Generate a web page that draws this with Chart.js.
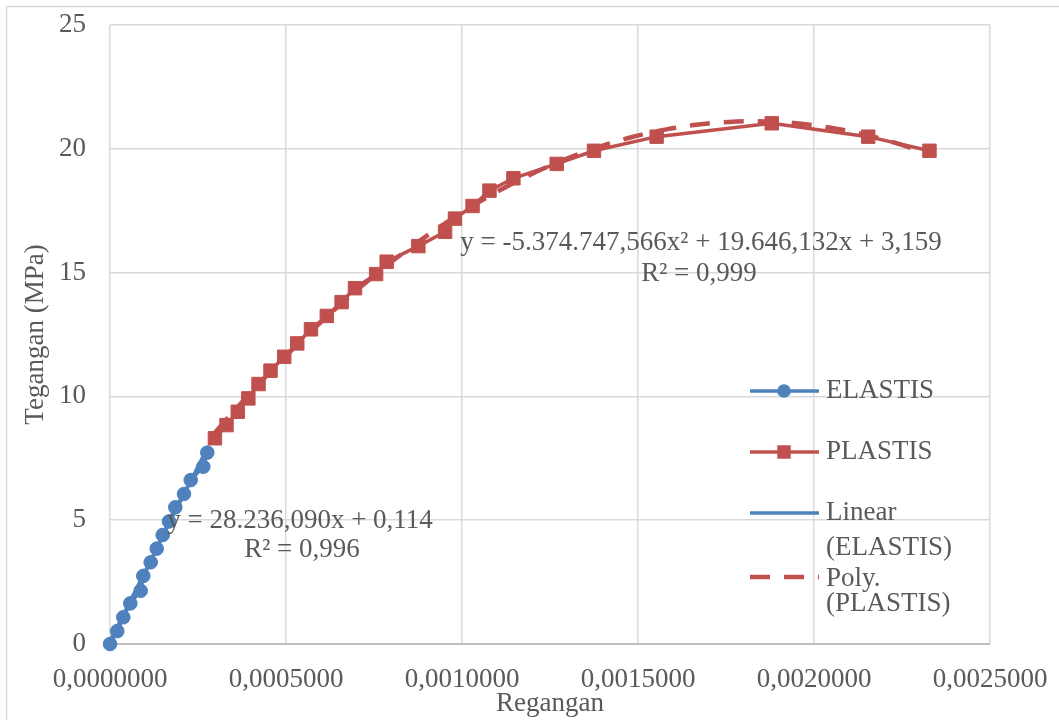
<!DOCTYPE html>
<html>
<head>
<meta charset="utf-8">
<script src="https://cdn.jsdelivr.net/npm/chart.js@4"></script>
<style>
html, body { margin: 0; padding: 0; background: #fff; }
#wadah { width: 1059px; height: 720px; position: relative; }
</style>
</head>
<body>
<div id="wadah"><canvas id="grafikTegangan" width="1059" height="720"></canvas></div>
<script>
// Data hasil uji: regangan (x) dan tegangan (MPa)
const regElastis = [0, 0.0000207, 0.0000378, 0.0000577, 0.0000872, 0.0000946, 0.0001156, 0.0001327,
    0.0001497, 0.0001676, 0.0001855, 0.0002102, 0.0002293, 0.0002651, 0.0002764];
const tegElastis = [0, 0.52, 1.08, 1.64, 2.15, 2.75, 3.30, 3.85, 4.40, 4.95, 5.52, 6.06, 6.62, 7.16, 7.73];

const regPlastis = [0.000298, 0.000331, 0.000363, 0.000393, 0.000422, 0.000456, 0.000495, 0.000532,
    0.000571, 0.000616, 0.000658, 0.000696, 0.000756, 0.000786, 0.000876, 0.000952, 0.000980,
    0.001030, 0.001078, 0.001146, 0.001269, 0.001375, 0.001553, 0.001880, 0.002154, 0.002328];
const tegPlastis = [8.31, 8.84, 9.38, 9.92, 10.50, 11.04, 11.60, 12.14, 12.71, 13.25, 13.81, 14.37,
    14.94, 15.44, 16.07, 16.65, 17.18, 17.69, 18.31, 18.81, 19.39, 19.92, 20.49, 21.03, 20.49, 19.92];

// Koefisien garis tren (sesuai persamaan yang ditampilkan)
const koefLinear = [28236.090, 0.114];               // y = a x + b
const koefPoly = [-5374747.566, 19646.132, 3.159];   // y = a x^2 + b x + c

const tickRegangan = [0, 0.0005, 0.001, 0.0015, 0.002, 0.0025];
const labelRegangan = ['0,0000000', '0,0005000', '0,0010000', '0,0015000', '0,0020000', '0,0025000'];
const tickTegangan = [0, 5, 10, 15, 20, 25];
const labelTegangan = ['0', '5', '10', '15', '20', '25'];

const BIRU = '#4F81BD';
const MERAH = '#C0504D';
const ABU_TEKS = '#595959';
const HURUF = '"Liberation Serif", "Times New Roman", serif';

const titikElastis = regElastis.map((x, i) => ({ x: x, y: tegElastis[i] }));
const titikPlastis = regPlastis.map((x, i) => ({ x: x, y: tegPlastis[i] }));

// garis tren linear hanya sepanjang data elastis
const xMaxElastis = Math.max(...regElastis);
const trenLinear = [0, xMaxElastis].map(x => ({ x: x, y: koefLinear[0] * x + koefLinear[1] }));

// garis tren polinomial orde 2 sepanjang data plastis
const xMinP = Math.min(...regPlastis), xMaxP = Math.max(...regPlastis);
const trenPoly = [];
for (let i = 0; i <= 100; i++) {
    const x = xMinP + (xMaxP - xMinP) * i / 100;
    trenPoly.push({ x: x, y: koefPoly[0] * x * x + koefPoly[1] * x + koefPoly[2] });
}

const bingkaiLuar = {
    id: 'bingkaiLuar',
    beforeDraw(chart) {
        const c = chart.ctx;
        c.save();
        c.fillStyle = '#fff';
        c.fillRect(0, 0, chart.width, chart.height);
        c.strokeStyle = '#d9d9d9';
        c.lineWidth = 1.5;
        c.strokeRect(6.5, 6.5, chart.width + 20, chart.height + 20);
        c.restore();
    }
};

// posisi legenda dan label persamaan (piksel)
const posLegenda = [
    { y: 391, teks: [['ELASTIS', 391]] },
    { y: 452, teks: [['PLASTIS', 452]] },
    { y: 513, teks: [['Linear', 513], ['(ELASTIS)', 548]] },
    { y: 577, teks: [['Poly.', 579], ['(PLASTIS)', 604]] }
];

const legendaDanPersamaan = {
    id: 'legendaDanPersamaan',
    afterDatasetsDraw(chart) {
        const c = chart.ctx;
        c.save();
        c.font = '27px ' + HURUF;
        c.fillStyle = ABU_TEKS;
        c.textBaseline = 'middle';

        // persamaan garis tren
        c.textAlign = 'center';
        c.fillText('y = 28.236,090x + 0,114', 300, 521);
        c.fillText('R² = 0,996', 302, 550);
        c.fillText('y = -5.374.747,566x² + 19.646,132x + 3,159', 701, 243);
        c.fillText('R² = 0,999', 699, 274);

        // legenda
        const urutan = [0, 1, 2, 3];
        urutan.forEach(i => {
            const ds = chart.data.datasets[i];
            const p = posLegenda[i];
            c.strokeStyle = ds.borderColor;
            c.lineWidth = ds.borderWidth;
            c.setLineDash(ds.borderDash || []);
            c.beginPath();
            c.moveTo(750, p.y);
            c.lineTo(819, p.y);
            c.stroke();
            c.setLineDash([]);
            if (ds.pointRadius > 0) {
                c.fillStyle = ds.borderColor;
                if (ds.pointStyle === 'rect') {
                    const s = ds.pointRadius * Math.SQRT1_2;
                    c.fillRect(784 - s, p.y - s, 2 * s, 2 * s);
                } else {
                    c.beginPath();
                    c.arc(784, p.y, ds.pointRadius, 0, Math.PI * 2);
                    c.fill();
                }
            }
            c.fillStyle = ABU_TEKS;
            c.textAlign = 'left';
            p.teks.forEach(t => c.fillText(t[0], 826, t[1]));
        });
        c.restore();
    }
};

const ctx = document.getElementById('grafikTegangan').getContext('2d');
const grafikTegangan = new Chart(ctx, {
    type: 'scatter',
    data: {
        datasets: [
            {
                label: 'ELASTIS',
                data: titikElastis,
                showLine: true,
                clip: 20,
                borderColor: BIRU,
                backgroundColor: BIRU,
                borderWidth: 3.5,
                pointStyle: 'circle',
                pointRadius: 6.8,
                pointBorderWidth: 1,
                order: 3
            },
            {
                label: 'PLASTIS',
                data: titikPlastis,
                showLine: true,
                clip: 20,
                borderColor: MERAH,
                backgroundColor: MERAH,
                borderWidth: 3.5,
                pointStyle: 'rect',
                pointRadius: 9.5,
                pointBorderWidth: 1,
                order: 2
            },
            {
                label: 'Linear (ELASTIS)',
                data: trenLinear,
                showLine: true,
                borderColor: BIRU,
                borderWidth: 3.5,
                pointRadius: 0,
                order: 1
            },
            {
                label: 'Poly. (PLASTIS)',
                data: trenPoly,
                showLine: true,
                borderColor: MERAH,
                borderWidth: 4.5,
                borderDash: [20, 14],
                pointRadius: 0,
                order: 0
            }
        ]
    },
    options: {
        responsive: false,
        devicePixelRatio: 1,
        animation: false,
        events: [],
        layout: { padding: { left: 0, top: 25, right: 69, bottom: 0 } },
        plugins: {
            legend: { display: false },
            tooltip: { enabled: false }
        },
        scales: {
            x: {
                type: 'linear',
                min: 0,
                max: 0.0025,
                afterBuildTicks: s => { s.ticks = tickRegangan.map(v => ({ value: v })); },
                afterFit: s => { s.height = 76; s.paddingLeft = 0; s.paddingRight = 0; },
                ticks: {
                    font: { family: HURUF, size: 27 },
                    color: ABU_TEKS,
                    padding: 20,
                    maxRotation: 0,
                    autoSkip: false,
                    callback: (v, i) => labelRegangan[i]
                },
                grid: { color: '#d9d9d9', lineWidth: 1.5, drawTicks: false },
                border: { color: '#bfbfbf', width: 2 },
                title: {
                    display: true,
                    text: 'Regangan',
                    font: { family: HURUF, size: 27 },
                    color: ABU_TEKS,
                    padding: { top: 0, bottom: 0 }
                }
            },
            y: {
                min: 0,
                max: 25,
                afterBuildTicks: s => { s.ticks = tickTegangan.map(v => ({ value: v })); },
                afterFit: s => { s.width = 110; s.paddingTop = 0; s.paddingBottom = 0; },
                ticks: {
                    font: { family: HURUF, size: 27 },
                    color: ABU_TEKS,
                    padding: 24,
                    callback: (v, i) => labelTegangan[i]
                },
                grid: { color: '#d9d9d9', lineWidth: 1.5, drawTicks: false },
                border: { display: false },
                title: {
                    display: true,
                    text: 'Tegangan (MPa)',
                    font: { family: HURUF, size: 27 },
                    color: ABU_TEKS,
                    padding: { top: 20, bottom: 0 }
                }
            }
        }
    },
    plugins: [bingkaiLuar, legendaDanPersamaan]
});
</script>
</body>
</html>
